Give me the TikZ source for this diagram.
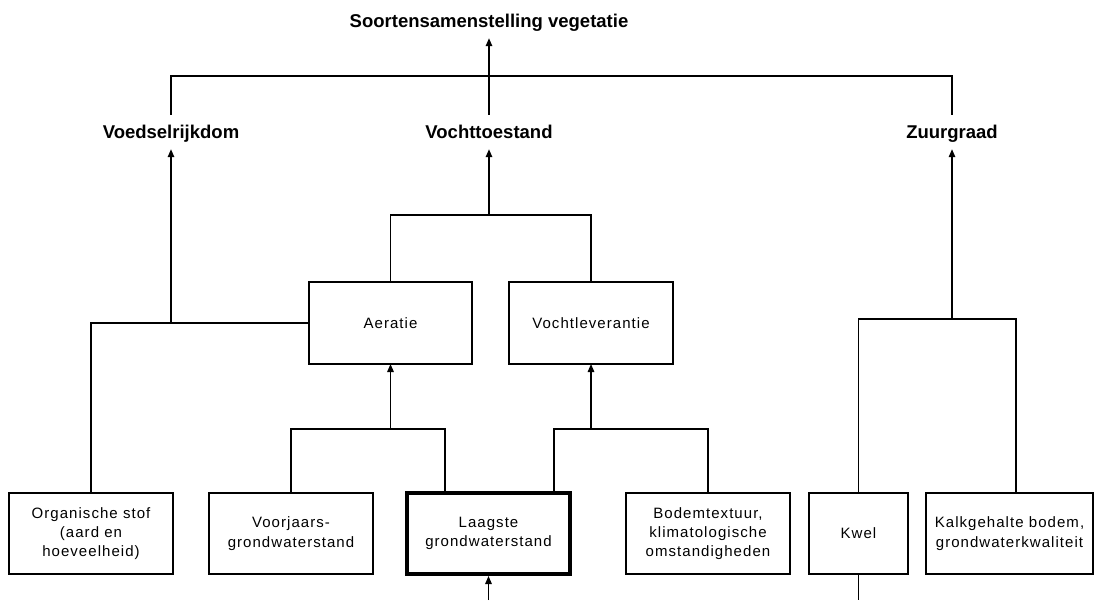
\documentclass[tikz,border=0pt]{standalone}
\usepackage{fontspec}
\setmainfont{Liberation Sans}
\newfontfamily\boxfont[LetterSpace=7]{Liberation Sans}
\usepackage{tikz}
\usetikzlibrary{positioning,arrows.meta}

\begin{document}
\begin{tikzpicture}[x=1pt,y=-1pt,
      factor/.style={rectangle,draw=black,line width=1.4pt,outer sep=0pt,
                     minimum width=164pt,minimum height=81pt,inner sep=0pt,
                     align=center,font=\boxfont\fontsize{15}{19.3}\selectfont},
      keyfactor/.style={factor,line width=3.2pt,outer sep=2pt},
      heading/.style={font=\bfseries\fontsize{18.5}{22}\selectfont,
                      inner xsep=0pt,inner ysep=11pt,text height=12pt,
                      text depth=0pt,anchor=base},
      link/.style={line width=1.4pt,black},
      arr/.style={link,-{Triangle[length=8pt,width=6.5pt]}},
    ]
    \useasboundingbox (0,0) rectangle (1094,600);

    % Node layout
    \node[heading] (title) at (489,27) {Soortensamenstelling vegetatie};
    \node[heading] (voedsel) at (171,138) {Voedselrijkdom};
    \node[heading] (vocht) at (489,138) {Vochttoestand};
    \node[heading] (zuur) at (952,138) {Zuurgraad};

    \node[factor,minimum width=163pt,minimum height=82pt] (aeratie) at (390.5,323) {Aeratie};
    \node[factor,minimum height=82pt] (vochtlev) at (591,323) {Vochtleverantie};

    \node[factor] (organisch) at (91,533.5) {Organische stof\\(aard en\\hoeveelheid)};
    \node[factor,right=36pt of organisch] (voorjaars) {Voorjaars-\\grondwaterstand};
    \node[keyfactor,minimum width=163pt,right=32pt of voorjaars] (laagste) {Laagste\\grondwaterstand};
    \node[factor,right=54pt of laagste] (bodem) {Bodemtextuur,\\klimatologische\\omstandigheden};
    \node[factor,minimum width=99pt,right=19pt of bodem] (kwel) {Kwel};
    \node[factor,minimum width=167pt,right=18pt of kwel] (kalk) {Kalkgehalte bodem,\\grondwaterkwaliteit};

    \coordinate (topBar) at (489,76);
    \coordinate (vBar) at (489,215);
    \coordinate (aerBar) at (390.5,429);
    \coordinate (levBar) at (591,429);
    \coordinate (zBar) at (952,319);
    \coordinate (lowIn) at (488.5,600);
    \coordinate (kwelOut) at (858.5,600);

    % Arrow connections
    \draw[link] (voedsel.north) |- (topBar) -| (zuur.north);
    \draw[arr] (vocht) -- (vocht |- title.south);

    \draw[link] (aeratie.north) |- (vBar) -| (vochtlev.north);
    \draw[arr] (vBar) -- (vocht);

    \draw[link] (organisch.north) |- (aeratie.west);
    \draw[arr] (voedsel |- aeratie.west) -- (voedsel);

    \draw[link] (voorjaars.north) |- (aerBar) -| ([xshift=-43.5pt]laagste.north);
    \draw[arr] (aerBar) -- (aeratie);
    \draw[link] ([xshift=65.5pt]laagste.north) |- (levBar) -| (bodem.north);
    \draw[arr] (levBar) -- (vochtlev);

    \draw[link] (kwel.north) |- (zBar) -| ([xshift=6.5pt]kalk.north);
    \draw[arr] (zBar) -- (zuur);

    \draw[arr] (lowIn) -- (laagste);
    \draw[link] (kwel.south) -- (kwelOut);

  \end{tikzpicture}
\end{document}
